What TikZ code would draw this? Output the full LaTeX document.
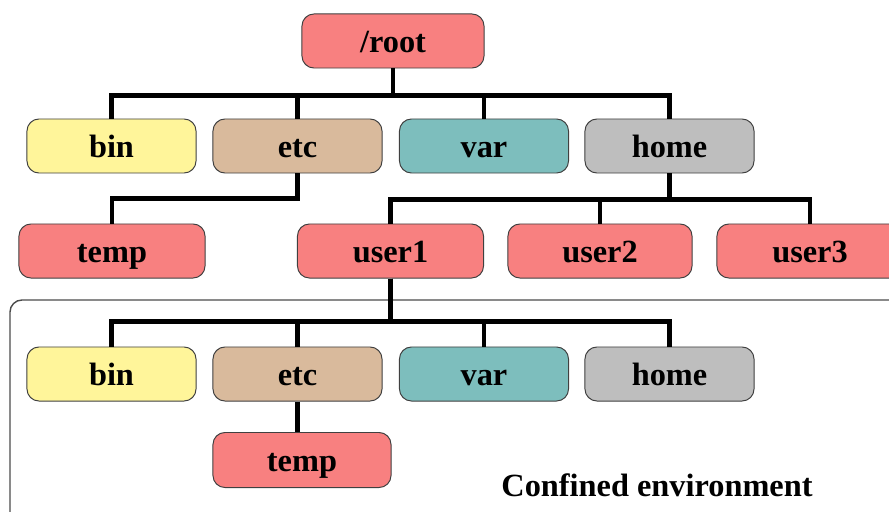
\documentclass[tikz,border=0pt]{standalone}
\usepackage{fontspec}
\setmainfont{Liberation Serif}
\usepackage{tikz}
\usetikzlibrary{positioning}

\definecolor{dirred}{HTML}{F88080}
\definecolor{diryellow}{HTML}{FFF59A}
\definecolor{dirtan}{HTML}{D9BA9C}
\definecolor{dirteal}{HTML}{7DBEBD}
\definecolor{dirgray}{HTML}{BEBEBE}

\tikzset{
	dir/.style={draw=black!75, line width=0.7pt, rounded corners=0.3cm,
		minimum width=4.225cm, minimum height=1.35cm, inner sep=0pt,
		text height=17pt, text depth=0pt,
		font=\fontsize{23}{27}\selectfont\bfseries},
	link/.style={line width=3.4pt},
}

\begin{document}
\begin{tikzpicture}[x=0.025cm, y=-0.025cm]
			\useasboundingbox (0,0) rectangle (889,512);
			
			% Wurzel
			\node[dir, fill=dirred, minimum width=4.55cm] (root) at (393,41) {/root};
			
			% erste Ebene
			\node[dir, fill=diryellow] (bin) at (111.5,146) {bin};
			\node[dir, fill=dirtan] (etc) at (297.5,146) {etc};
			\node[dir, fill=dirteal] (var) at (484,146) {var};
			\node[dir, fill=dirgray] (home) at (669.5,146) {home};
			
			% zweite Ebene
			\node[dir, fill=dirred, minimum width=4.65cm] (temp) at (112,251) {temp};
			\node[dir, fill=dirred, minimum width=4.65cm] (user1) at (390.5,251) {user1};
			\node[dir, fill=dirred, minimum width=4.6cm] (user2) at (600,251) {user2};
			\node[dir, fill=dirred, minimum width=4.65cm] (user3) at (810,251) {user3};
			
			% Verbindungen
			\foreach \n in {bin,etc,var,home}
				\draw[link] (root.south) -- ++(0,27) -| (\n.north);
			\draw[link] (etc.south) -- ++(0,25) -| (temp.north);
			\foreach \n in {user1,user2,user3}
				\draw[link] (home.south) -- ++(0,26) -| (\n.north);
			
			% eingeschlossene Umgebung
			\draw[black!70, line width=1pt, rounded corners=0.3cm] (10,300) rectangle (910,540);
			\node[font=\fontsize{23}{27}\selectfont\bfseries] (label) at (657,485) {Confined environment};
			
			\node[dir, fill=diryellow] (bin2) at (111.5,374) {bin};
			\node[dir, fill=dirtan] (etc2) at (297.5,374) {etc};
			\node[dir, fill=dirteal] (var2) at (484,374) {var};
			\node[dir, fill=dirgray] (home2) at (669.5,374) {home};
			\node[dir, fill=dirred, minimum width=4.45cm, minimum height=1.375cm] (temp2) at (302,460) {temp};
			
			\foreach \n in {bin2,etc2,var2,home2}
				\draw[link] (user1.south) -- ++(0,43) -| (\n.north);
			\draw[link] (etc2.south) -- (etc2.south |- temp2.north);
\end{tikzpicture}
\end{document}
